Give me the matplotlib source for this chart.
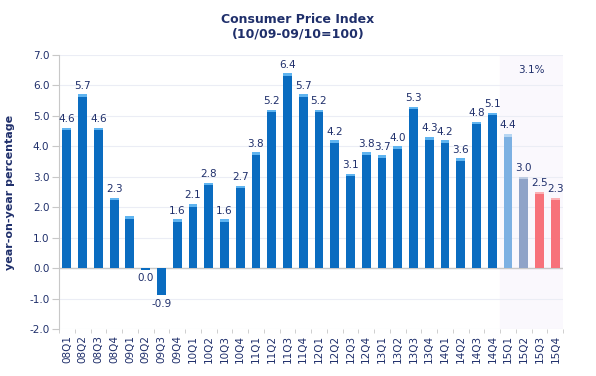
import numpy as np
from matplotlib import pyplot as plt

# quarters and year-on-year CPI change
quarters = ['08Q1', '08Q2', '08Q3', '08Q4', '09Q1', '09Q2', '09Q3', '09Q4',
            '10Q1', '10Q2', '10Q3', '10Q4', '11Q1', '11Q2', '11Q3', '11Q4',
            '12Q1', '12Q2', '12Q3', '12Q4', '13Q1', '13Q2', '13Q3', '13Q4',
            '14Q1', '14Q2', '14Q3', '14Q4', '15Q1', '15Q2', '15Q3', '15Q4']
values = [4.6, 5.7, 4.6, 2.3, 1.7, -0.05, -0.9, 1.6,
          2.1, 2.8, 1.6, 2.7, 3.8, 5.2, 6.4, 5.7,
          5.2, 4.2, 3.1, 3.8, 3.7, 4.0, 5.3, 4.3,
          4.2, 3.6, 4.8, 5.1, 4.4, 3.0, 2.5, 2.3]
labels = ['4.6', '5.7', '4.6', '2.3', '', '0.0', '-0.9', '1.6',
          '2.1', '2.8', '1.6', '2.7', '3.8', '5.2', '6.4', '5.7',
          '5.2', '4.2', '3.1', '3.8', '3.7', '4.0', '5.3', '4.3',
          '4.2', '3.6', '4.8', '5.1', '4.4', '3.0', '2.5', '2.3']
forecast_note = '3.1%'

navy = '#1f2f6b'
colors = ['#0a6cc0'] * 28 + ['#7cb0e2', '#8fa3c8', '#f7727a', '#f7727a']
caps = ['#5fb4f0'] * 28 + ['#b6d6f3', '#bccbe2', '#fbb0b4', '#fbb0b4']

fig = plt.figure(figsize=(5.96, 3.76), dpi=100)
ax = fig.add_axes([0.099, 0.125, 0.846, 0.729])

x = np.arange(len(quarters))
ax.axvspan(27.5, 31.45, color='#faf8fd', zorder=0)
for yv in range(-2, 8):
    ax.axhline(yv, color='#ebedf5', lw=0.8, zorder=1)
ax.axhline(0, color='#c8c8c8', lw=1.0, zorder=1)

w = 0.56
ax.bar(x, values, width=w, color=colors, zorder=3)
# lighter top cap to mimic the cylinder look
for xi, v, c in zip(x, values, caps):
    if v >= 0:
        ax.bar(xi, 0.08, bottom=v - 0.08, width=w, color=c, zorder=4)

for xi, v, lab in zip(x, values, labels):
    if not lab:
        continue
    if v >= 0:
        ax.text(xi, v + 0.12, lab, ha='center', va='bottom', fontsize=7.5, color=navy)
    else:
        ax.text(xi, v - 0.12, lab, ha='center', va='top', fontsize=7.5, color=navy)

ax.text(29.5, 6.5, forecast_note, ha='center', va='center', fontsize=7.5, color=navy)

ax.set_xlim(-0.45, 31.45)
ax.set_ylim(-2, 7)
ax.set_yticks(np.arange(-2, 8))
ax.set_yticklabels(['{:.1f}'.format(t) for t in np.arange(-2, 8)], fontsize=7.5, color=navy)
ax.set_xticks(x)
ax.set_xticklabels(quarters, rotation=90, fontsize=7.5, color=navy)
ax.set_xticks(np.arange(-0.5, 32, 1), minor=True)
ax.tick_params(axis='x', which='major', length=0, pad=4)
ax.tick_params(axis='x', which='minor', length=3, color='#c8c8c8')
ax.tick_params(axis='y', length=5, color='#c8c8c8', pad=2)

for s in ['top', 'right', 'bottom']:
    ax.spines[s].set_visible(False)
ax.spines['left'].set_color('#c8c8c8')

ax.set_ylabel('year-on-year percentage', fontsize=8, fontweight='bold', color=navy, labelpad=10)
fig.text(0.5, 0.965, 'Consumer Price Index\n(10/09-09/10=100)', ha='center', va='top',
         fontsize=9, fontweight='bold', color=navy, linespacing=1.1)

plt.savefig('out.png', dpi=100)
